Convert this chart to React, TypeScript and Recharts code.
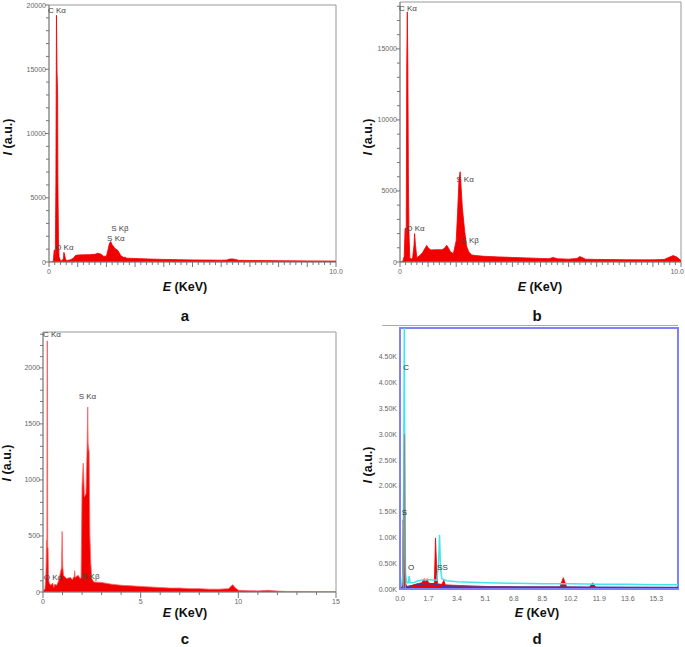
import React from 'react';
import { ComposedChart, Area, Line, XAxis, YAxis, ReferenceArea, ReferenceDot } from 'recharts';

type Pt = [number, number];
type Peak = { text: string; e: number; i: number };

// spectrum a (keV, counts)
const aSpectrum: Pt[] = [
  [0, 0], [0.1, 0], [0.15, 50], [0.18, 900], [0.2, 950], [0.22, 300], [0.24, 6000], [0.26, 19200],
  [0.28, 14800], [0.3, 13200], [0.31, 6200], [0.33, 1800], [0.35, 400], [0.4, 120], [0.45, 100],
  [0.5, 250], [0.52, 750], [0.55, 500], [0.58, 150], [0.65, 120], [0.75, 180], [0.85, 300], [0.92, 500],
  [1.0, 540], [1.2, 560], [1.4, 570], [1.6, 600], [1.7, 680], [1.8, 620], [1.9, 450], [2.0, 450],
  [2.05, 900], [2.1, 1400], [2.15, 1600], [2.2, 1350], [2.3, 1050], [2.4, 900], [2.5, 500], [2.6, 350],
  [2.65, 380], [2.7, 300], [3.0, 270], [3.5, 230], [4.0, 200], [4.5, 180], [5.0, 160], [5.5, 150],
  [6.0, 140], [6.2, 150], [6.3, 230], [6.4, 240], [6.5, 200], [6.6, 130], [7.0, 120], [7.5, 110],
  [8.0, 100], [8.5, 90], [9.0, 85], [9.5, 80], [10.0, 70],
];
const aPeaks: Peak[] = [
  { text: 'C Kα', e: 0.0, i: 19600 },
  { text: 'O Kα', e: 0.25, i: 1170 },
  { text: 'S Kβ', e: 2.2, i: 2650 },
  { text: 'S Kα', e: 2.06, i: 1870 },
];

// spectrum b
const bSpectrum: Pt[] = [
  [0, 0], [0.1, 50], [0.15, 400], [0.18, 2300], [0.2, 2400], [0.22, 900], [0.24, 14000], [0.26, 17600],
  [0.28, 13700], [0.3, 5600], [0.32, 2000], [0.35, 300], [0.4, 200], [0.45, 300], [0.5, 1200], [0.52, 2000],
  [0.55, 1200], [0.6, 300], [0.7, 450], [0.8, 650], [0.9, 1000], [0.95, 1170], [1.0, 1000], [1.1, 850],
  [1.3, 870], [1.5, 860], [1.6, 1000], [1.66, 1180], [1.72, 1000], [1.8, 700], [1.9, 600], [2.0, 1500],
  [2.05, 3500], [2.1, 5800], [2.14, 6350], [2.18, 5100], [2.22, 3800], [2.3, 2200], [2.37, 1100],
  [2.45, 700], [2.55, 500], [2.7, 450], [3.0, 400], [3.5, 360], [4.0, 320], [4.5, 290], [5.0, 250],
  [5.3, 230], [5.45, 320], [5.6, 230], [6.0, 200], [6.3, 250], [6.4, 380], [6.5, 300], [6.6, 200],
  [7.0, 180], [7.5, 170], [8.0, 160], [8.5, 150], [9.0, 150], [9.4, 180], [9.6, 350], [9.72, 450],
  [9.85, 350], [10.0, 100],
];
const bPeaks: Peak[] = [
  { text: 'C Kα', e: 0.0, i: 17900 },
  { text: 'O Kα', e: 0.26, i: 2380 },
  { text: 'S Kα', e: 2.04, i: 5840 },
  { text: 'S Kβ', e: 2.22, i: 1560 },
];

// spectrum c
const cSpectrum: Pt[] = [
  [0, 10], [0.1, 30], [0.15, 150], [0.18, 460], [0.2, 420], [0.21, 2240], [0.23, 2240], [0.24, 400],
  [0.26, 390], [0.28, 120], [0.32, 80], [0.4, 60], [0.5, 80], [0.55, 40], [0.6, 70], [0.7, 60],
  [0.8, 100], [0.9, 180], [0.95, 220], [0.98, 540], [1.01, 230], [1.05, 150], [1.2, 120], [1.4, 130],
  [1.5, 110], [1.6, 140], [1.62, 190], [1.65, 130], [1.8, 150], [1.9, 120], [1.95, 130], [2.0, 950],
  [2.06, 1150], [2.12, 850], [2.2, 880], [2.26, 1300], [2.29, 1650], [2.31, 1320], [2.36, 1250],
  [2.4, 500], [2.45, 250], [2.5, 120], [2.6, 90], [3.0, 85], [3.5, 70], [4.0, 60], [4.5, 55], [5.0, 50],
  [5.5, 45], [6.0, 40], [6.5, 35], [7.0, 35], [7.5, 30], [8.0, 30], [8.5, 25], [9.0, 25], [9.5, 30],
  [9.65, 55], [9.72, 65], [9.8, 45], [10.0, 15], [10.5, 12], [11.0, 10], [11.5, 15], [12.0, 8],
  [12.5, 5], [13.0, 5], [14.0, 3], [15.0, 2],
];
const cPeaks: Peak[] = [
  { text: 'C Kα', e: 0.05, i: 2300 },
  { text: 'S Kα', e: 1.88, i: 1748 },
  { text: 'O Kα', e: 0.09, i: 130 },
  { text: 'S Kβ', e: 2.05, i: 142 },
];

// spectrum d (counts in K)
const dCyan: Pt[] = [
  [0, 0.05], [0.1, 0.08], [0.18, 0.3], [0.22, 2.1], [0.26, 5.3], [0.29, 1.6], [0.33, 0.3], [0.4, 0.12],
  [0.5, 0.12], [0.55, 0.25], [0.6, 0.12], [0.8, 0.12], [1.0, 0.15], [1.4, 0.18], [1.8, 0.18],
  [2.2, 0.17], [2.3, 0.5], [2.36, 1.05], [2.42, 0.4], [2.5, 0.2], [2.8, 0.16], [3.4, 0.14], [5.1, 0.12],
  [6.8, 0.11], [8.5, 0.1], [10.2, 0.1], [11.9, 0.09], [13.6, 0.09], [15.3, 0.08], [16.6, 0.08],
];
const dRed: Pt[] = [
  [0, 0], [0.14, 0.02], [0.18, 1.34], [0.22, 1.2], [0.26, 0.6], [0.3, 0.15], [0.4, 0.05], [0.6, 0.06],
  [0.8, 0.08], [1.0, 0.1], [1.3, 0.12], [1.45, 0.2], [1.5, 0.13], [1.62, 0.2], [1.7, 0.12], [1.9, 0.1],
  [2.05, 0.1], [2.12, 0.99], [2.18, 0.5], [2.24, 0.1], [2.5, 0.09], [2.62, 0.17], [2.7, 0.08],
  [3.4, 0.07], [5.1, 0.05], [6.8, 0.04], [8.5, 0.04], [9.55, 0.04], [9.75, 0.22], [9.95, 0.04],
  [11.3, 0.03], [11.5, 0.12], [11.7, 0.03], [13.6, 0.02], [16.6, 0.02],
];
const dGray: Pt[] = [[0.2, 0], [0.27, 3.0], [0.32, 0]];
const dPurple: Pt[] = [
  [0, 0.03], [0.5, 0.05], [1.0, 0.08], [1.5, 0.1], [2.0, 0.1], [2.3, 0.08], [2.6, 0.05], [3.4, 0.04], [16.6, 0.03],
];
const dPeaks: Peak[] = [
  { text: 'C', e: 0.26, i: 4.3 },
  { text: 'S', e: 0.16, i: 1.49 },
  { text: 'O', e: 0.54, i: 0.42 },
  { text: 'SS', e: 2.28, i: 0.42 },
];

const steps = (from: number, to: number, step: number) => {
  const out: number[] = [];
  const n = Math.round((to - from) / step);
  for (let k = 0; k <= n; k++) out.push(+(from + k * step).toFixed(4));
  return out;
};

const abXTicks = steps(0, 10, 0.2);
const aYTicks = steps(0, 20000, 1000);
const bYTicks = steps(0, 18000, 1000);
const cXTicks = steps(0, 15, 1);
const cYTicks = steps(0, 2300, 100);
const dXTicks = [0, 1.7, 3.4, 5.1, 6.8, 8.5, 10.2, 11.9, 13.6, 15.3];
const dYTicks = [0, 0.5, 1, 1.5, 2, 2.5, 3, 3.5, 4, 4.5];

const toRows = (pts: Pt[]) => pts.map(([e, i]) => ({ e, i }));

const isMultiple = (v: number, m: number) => Math.abs(v / m - Math.round(v / m)) < 1e-6;

// last label of a and b sits on the right edge, keep it inside
const makeXTick = (
  fmt: (v: number) => string,
  major: (v: number) => boolean,
  minorLen: number,
  majorLen: number,
  endAt?: number
) =>
  (p: any) => {
    const v = p.payload.value;
    const len = major(v) ? majorLen : minorLen;
    const label = fmt(v);
    const atEnd = endAt !== undefined && v === endAt;
    return (
      <g>
        {len > 0 && <line x1={p.x} x2={p.x} y1={p.y} y2={p.y + len} stroke="#777" />}
        {label && (
          <text
            x={atEnd ? p.x + 3 : p.x}
            y={p.y + 9}
            textAnchor={atEnd ? 'end' : 'middle'}
            dominantBaseline="central"
            fontSize={7}
            fill="#666"
          >
            {label}
          </text>
        )}
      </g>
    );
  };

const makeYTick = (fmt: (v: number) => string, major: (v: number) => boolean, minorLen: number, majorLen: number) =>
  (p: any) => {
    const v = p.payload.value;
    const len = major(v) ? majorLen : minorLen;
    const label = fmt(v);
    return (
      <g>
        {len > 0 && <line x1={p.x - len} x2={p.x} y1={p.y} y2={p.y} stroke="#777" />}
        {label && (
          <text x={p.x - 3} y={p.y} textAnchor="end" dominantBaseline="central" fontSize={7} fill="#666">
            {label}
          </text>
        )}
      </g>
    );
  };

const peakDots = (peaks: Peak[], color: string) =>
  peaks.map((p) => (
    <ReferenceDot
      key={p.text + p.e}
      x={p.e}
      y={p.i}
      r={1}
      fill="none"
      stroke="none"
      ifOverflow="visible"
      label={{ value: p.text, position: 'insideLeft', offset: 0, fontSize: 8, fill: color }}
    />
  ));

const RED = '#f20000';

const Title = ({ x, y, children, rotate, size = 12.5 }: any) => (
  <div
    style={{
      position: 'absolute',
      left: x,
      top: y,
      transform: `translate(-50%, -50%)${rotate ? ' rotate(-90deg)' : ''}`,
      fontWeight: 'bold',
      fontSize: size,
      lineHeight: 1,
      whiteSpace: 'nowrap',
      color: '#111',
    }}
  >
    {children}
  </div>
);

export default function App() {
  const axisTitleY = (
    <>
      <i>I</i> (a.u.)
    </>
  );
  const axisTitleX = (
    <>
      <i>E</i> (KeV)
    </>
  );
  return (
    <div
      style={{
        position: 'absolute',
        left: 0,
        top: 0,
        width: 685,
        height: 647,
        background: '#fff',
        fontFamily: '"Liberation Sans", Arial, sans-serif',
        overflow: 'hidden',
      }}
    >
      {/* a */}
      <div style={{ position: 'absolute', left: 0, top: 0 }}>
        <ComposedChart width={345} height={280} data={toRows(aSpectrum)} margin={{ top: 5, right: 9, left: 0, bottom: 0 }}>
          <XAxis
            dataKey="e"
            type="number"
            domain={[0, 10]}
            allowDataOverflow
            ticks={abXTicks}
            interval={0}
            height={18}
            tickSize={0}
            tickMargin={0}
            axisLine={{ stroke: '#888' }}
            tick={makeXTick((v) => (v === 0 ? '0' : v === 10 ? '10.0' : ''), (v) => isMultiple(v, 1), 3, 5)}
          />
          <YAxis
            type="number"
            domain={[0, 20000]}
            allowDataOverflow
            ticks={aYTicks}
            interval={0}
            width={49}
            tickSize={0}
            tickMargin={0}
            axisLine={{ stroke: '#888' }}
            tick={makeYTick((v) => (isMultiple(v, 5000) ? String(v) : ''), (v) => isMultiple(v, 5000), 3, 4)}
          />
          <ReferenceArea x1={0} x2={10} y1={0} y2={20000} fill="none" stroke="#999" ifOverflow="visible" />
          <Area type="linear" dataKey="i" stroke={RED} strokeWidth={0.8} fill={RED} fillOpacity={1} isAnimationActive={false} />
          {peakDots(aPeaks, '#444')}
        </ComposedChart>
      </div>

      {/* b */}
      <div style={{ position: 'absolute', left: 345, top: 0 }}>
        <ComposedChart width={340} height={280} data={toRows(bSpectrum)} margin={{ top: 2, right: 4, left: 0, bottom: 0 }}>
          <XAxis
            dataKey="e"
            type="number"
            domain={[0, 10]}
            allowDataOverflow
            ticks={abXTicks}
            interval={0}
            height={18}
            tickSize={0}
            tickMargin={0}
            axisLine={{ stroke: '#888' }}
            tick={makeXTick((v) => (v === 0 ? '0' : v === 10 ? '10.0' : ''), (v) => isMultiple(v, 1), 3, 5, 10)}
          />
          <YAxis
            type="number"
            domain={[0, 18300]}
            allowDataOverflow
            ticks={bYTicks}
            interval={0}
            width={55}
            tickSize={0}
            tickMargin={0}
            axisLine={{ stroke: '#888' }}
            tick={makeYTick((v) => (isMultiple(v, 5000) ? String(v) : ''), (v) => isMultiple(v, 5000), 3, 4)}
          />
          <ReferenceArea x1={0} x2={10} y1={0} y2={18300} fill="none" stroke="#999" ifOverflow="visible" />
          <Area type="linear" dataKey="i" stroke={RED} strokeWidth={0.8} fill={RED} fillOpacity={1} isAnimationActive={false} />
          {peakDots(bPeaks, '#444')}
        </ComposedChart>
      </div>

      {/* c */}
      <div style={{ position: 'absolute', left: 0, top: 320 }}>
        <ComposedChart width={345} height={290} data={toRows(cSpectrum)} margin={{ top: 12, right: 9, left: 0, bottom: 0 }}>
          <XAxis
            dataKey="e"
            type="number"
            domain={[0, 15]}
            allowDataOverflow
            ticks={cXTicks}
            interval={0}
            height={18}
            tickSize={0}
            tickMargin={0}
            axisLine={{ stroke: '#888' }}
            tick={makeXTick((v) => (isMultiple(v, 5) ? String(v) : ''), (v) => isMultiple(v, 5), 3, 6)}
          />
          <YAxis
            type="number"
            domain={[0, 2320]}
            allowDataOverflow
            ticks={cYTicks}
            interval={0}
            width={43}
            tickSize={0}
            tickMargin={0}
            axisLine={{ stroke: '#888' }}
            tick={makeYTick((v) => (isMultiple(v, 500) ? String(v) : ''), (v) => isMultiple(v, 500), 3, 4)}
          />
          <ReferenceArea x1={0} x2={15} y1={0} y2={2320} fill="none" stroke="#999" ifOverflow="visible" />
          <Area type="linear" dataKey="i" stroke="#ff6060" strokeWidth={0.8} fill={RED} fillOpacity={1} isAnimationActive={false} />
          {peakDots(cPeaks, '#444')}
        </ComposedChart>
      </div>

      {/* d */}
      <div style={{ position: 'absolute', left: 382, top: 325, width: 296, height: 1, background: '#aaa' }} />
      <div style={{ position: 'absolute', left: 345, top: 320 }}>
        <ComposedChart width={340} height={286} margin={{ top: 8, right: 7, left: 0, bottom: 0 }}>
          <XAxis
            dataKey="e"
            type="number"
            domain={[0, 16.6]}
            allowDataOverflow
            ticks={dXTicks}
            interval={0}
            height={17}
            tickSize={0}
            tickMargin={0}
            axisLine={{ stroke: '#8080ff', strokeWidth: 2 }}
            tick={makeXTick((v) => v.toFixed(1), () => true, 0, 0)}
          />
          <YAxis
            dataKey="i"
            type="number"
            domain={[0, 5.06]}
            allowDataOverflow
            ticks={dYTicks}
            interval={0}
            width={55}
            tickSize={0}
            tickMargin={0}
            axisLine={{ stroke: '#8080ff', strokeWidth: 2 }}
            tick={makeYTick((v) => `${v.toFixed(2)}K`, () => true, 0, 0)}
          />
          <Area data={toRows(dRed)} type="linear" dataKey="i" stroke={RED} strokeWidth={0.8} fill={RED} fillOpacity={1} isAnimationActive={false} />
          <Line data={toRows(dPurple)} type="linear" dataKey="i" stroke="#4b3a9c" strokeWidth={1.5} dot={false} isAnimationActive={false} />
          <Line data={toRows(dCyan)} type="linear" dataKey="i" stroke="#3fe6ee" strokeWidth={1.5} dot={false} isAnimationActive={false} />
          <Line data={toRows(dGray)} type="linear" dataKey="i" stroke="#8c8c8c" strokeWidth={1.2} dot={false} isAnimationActive={false} />
          <ReferenceArea x1={0} x2={16.6} y1={0} y2={5.06} fill="none" stroke="#8080ff" strokeWidth={2} ifOverflow="visible" />
          {peakDots(dPeaks, '#333')}
        </ComposedChart>
      </div>

      <Title x={8} y={137} rotate>{axisTitleY}</Title>
      <Title x={368} y={137} rotate>{axisTitleY}</Title>
      <Title x={7} y={463} rotate>{axisTitleY}</Title>
      <Title x={368} y={465} rotate>{axisTitleY}</Title>

      <Title x={185} y={287}>{axisTitleX}</Title>
      <Title x={540} y={287}>{axisTitleX}</Title>
      <Title x={185} y={613}>{axisTitleX}</Title>
      <Title x={537} y={613}>{axisTitleX}</Title>

      <Title x={185} y={315} size={15}>a</Title>
      <Title x={537} y={315} size={15}>b</Title>
      <Title x={185} y={638} size={15}>c</Title>
      <Title x={537} y={638} size={15}>d</Title>
    </div>
  );
}
